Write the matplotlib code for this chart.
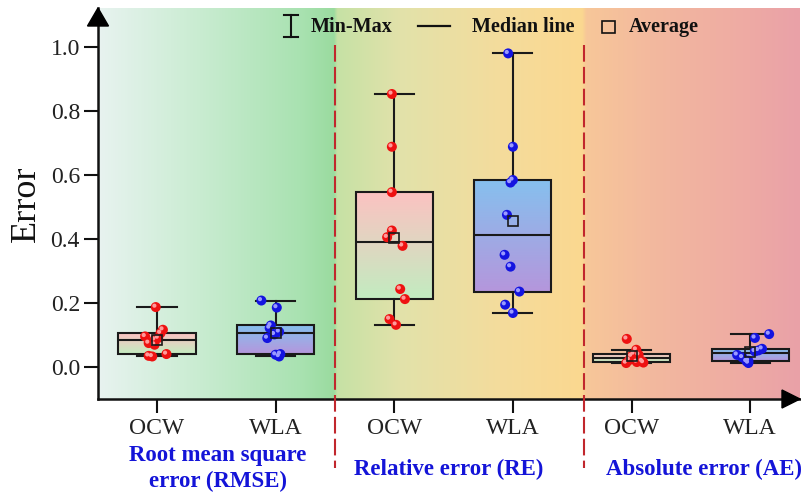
import numpy as np
import matplotlib
matplotlib.use('Agg')
import matplotlib.pyplot as plt
from matplotlib.colors import LinearSegmentedColormap
from matplotlib.lines import Line2D
from matplotlib.patches import Polygon, Rectangle
import matplotlib.transforms as mtransforms

plt.rcParams['font.family'] = ['Liberation Serif', 'DejaVu Serif']

# ---------------- data ----------------
categories = ['OCW', 'WLA', 'OCW', 'WLA', 'OCW', 'WLA']
metric_labels = ['Root mean square\nerror (RMSE)', 'Relative error (RE)', 'Absolute error (AE)']

rmse_ocw = [0.1875, 0.1166, 0.106, 0.0957, 0.0906, 0.085, 0.075, 0.0697, 0.0406, 0.035]
rmse_ocw_min = 0.033
rmse_wla = [0.208, 0.186, 0.130, 0.122, 0.110, 0.102, 0.0906, 0.0406, 0.0385, 0.033]
re_ocw = [0.854, 0.689, 0.547, 0.427, 0.406, 0.379, 0.244, 0.2125, 0.150, 0.132]
re_wla = [0.981, 0.689, 0.585, 0.577, 0.476, 0.351, 0.314, 0.236, 0.195, 0.169]
ae_ocw = [0.088, 0.054, 0.0406, 0.038, 0.034, 0.022, 0.018, 0.0156, 0.014, 0.0125]
ae_wla = [0.103, 0.091, 0.057, 0.052, 0.049, 0.038, 0.030, 0.0197, 0.0175, 0.0125]

rmse_ocw_all = rmse_ocw[:-1] + [rmse_ocw_min, rmse_ocw[-1]]

# horizontal jitter of each point (in category units)
jit_rmse_ocw = [-0.01, 0.05, 0.03, -0.10, 0.01, -0.02, -0.07, -0.02, 0.08, -0.04, -0.07]
jit_rmse_wla = [-0.12, 0.01, -0.04, -0.05, 0.03, -0.01, -0.07, 0.04, 0.00, 0.03]
jit_re_ocw = [-0.02, -0.02, -0.02, -0.02, -0.06, 0.07, 0.05, 0.09, -0.04, 0.015]
jit_re_wla = [-0.04, 0.00, 0.00, -0.02, -0.05, -0.07, -0.02, 0.055, -0.065, 0.00]
jit_ae_ocw = [-0.04, 0.04, 0.02, 0.06, 0.00, -0.02, 0.09, 0.045, 0.10, -0.045]
jit_ae_wla = [0.16, 0.04, 0.10, 0.07, 0.04, -0.11, -0.065, -0.015, -0.03, -0.015]

groups = [rmse_ocw_all, rmse_wla, re_ocw, re_wla, ae_ocw, ae_wla]
jitters = [jit_rmse_ocw, jit_rmse_wla, jit_re_ocw, jit_re_wla, jit_ae_ocw, jit_ae_wla]
dividers = [2.5, 4.6]
yticks = [0.0, 0.2, 0.4, 0.6, 0.8, 1.0]

# ---------------- styles ----------------
W, H = 801, 496
fig = plt.figure(figsize=(W / 100, H / 100), dpi=100)
ax_l, ax_r, ax_t, ax_b = 98, 800, 8, 399
ax = fig.add_axes([ax_l / W, 1 - ax_b / H, (ax_r - ax_l) / W, (ax_b - ax_t) / H])
XLIM = (0.503, 6.42)
YLIM = (-0.1, 1.123)

def px(x, y):
    return (x / W, 1 - y / H)

# background gradient
bg_stops = [(0.0, '#e8f3f0'), (0.145, '#c9ecd1'), (0.288, '#a9e2b1'), (0.336, '#9adb9f'),
            (0.341, '#c6e1a5'), (0.43, '#e2e2aa'), (0.573, '#f4dc9c'), (0.690, '#fbd890'),
            (0.696, '#f7c799'), (0.786, '#f3b99e'), (0.929, '#eeaaa4'), (1.0, '#e9a1a8')]
bg_cmap = LinearSegmentedColormap.from_list('bg', bg_stops, N=1024)
ax.imshow(np.linspace(0, 1, 1024).reshape(1, -1), extent=[XLIM[0], XLIM[1], YLIM[0], YLIM[1]],
          cmap=bg_cmap, aspect='auto', zorder=0, interpolation='bilinear')

ocw_cmap = LinearSegmentedColormap.from_list('ocw', ['#c2ecc0', '#fcc2c2'])
wla_cmap = LinearSegmentedColormap.from_list('wla', ['#b596dc', '#86c0ee'])
box_cmaps = [ocw_cmap, wla_cmap] * 3
pt_colors = ['#ee1111', '#1414e0'] * 3
hl_colors = ['#ff9a9a', '#9a9aff'] * 3

# box statistics (Tukey hinges, 1.5 IQR whiskers)
stats = []
for vals in groups:
    v = np.sort(np.asarray(vals, dtype=float))
    q1, q3 = np.percentile(v, [25, 75], method='nearest')
    iqr = q3 - q1
    lo = v[v >= q1 - 1.5 * iqr].min()
    hi = v[v <= q3 + 1.5 * iqr].max()
    stats.append(dict(med=np.median(v), q1=q1, q3=q3, whislo=lo, whishi=hi,
                      mean=v.mean(), fliers=[]))

positions = np.arange(1, len(groups) + 1)
bp = ax.bxp(stats, positions=positions, widths=0.65, capwidths=0.33, patch_artist=True,
            showmeans=True, showfliers=False,
            boxprops=dict(edgecolor='#1a1a1a', linewidth=1.5),
            whiskerprops=dict(color='#1a1a1a', linewidth=1.5),
            capprops=dict(color='#1a1a1a', linewidth=1.5),
            medianprops=dict(color='#1a1a1a', linewidth=1.5),
            meanprops=dict(marker='s', markerfacecolor='none', markeredgecolor='#1a1a1a',
                           markersize=7.5, markeredgewidth=1.2))

for i, box in enumerate(bp['boxes']):
    box.set_zorder(3)
    verts = box.get_path().vertices
    x0, x1 = verts[:, 0].min(), verts[:, 0].max()
    y0, y1 = verts[:, 1].min(), verts[:, 1].max()
    im = ax.imshow(np.linspace(0, 1, 256).reshape(-1, 1), extent=[x0, x1, y0, y1],
                   origin='lower', cmap=box_cmaps[i], aspect='auto', zorder=2.5,
                   interpolation='bilinear')
    im.set_clip_path(box)
    box.set_facecolor('none')
for k in ('whiskers', 'caps'):
    for ln in bp[k]:
        ln.set_zorder(2.8)
for ln in bp['medians']:
    ln.set_zorder(4)
for ln in bp['means']:
    ln.set_zorder(7)

# jittered points (glossy spheres)
hl_tr = mtransforms.offset_copy(ax.transData, fig=fig, x=-1.4, y=1.4, units='dots')
for i, (vals, jit) in enumerate(zip(groups, jitters)):
    xs = positions[i] + np.asarray(jit)
    ax.scatter(xs, vals, s=52, color=pt_colors[i], edgecolors='none', zorder=5)
    ax.scatter(xs, vals, s=9, color=hl_colors[i], edgecolors='none', zorder=6,
               transform=hl_tr)

# dividers
for d in dividers:
    ax.plot([d, d], [1.007, -0.315], color='#c1272d', linewidth=1.5, dashes=(8, 2.5),
            clip_on=False, zorder=4)

ax.set_xlim(*XLIM)
ax.set_ylim(*YLIM)
ax.set_xticks(positions)
ax.set_xticklabels(categories, fontsize=17)
ax.set_yticks(yticks)
ax.set_yticklabels([f'{t:.1f}' for t in yticks], fontsize=17)
ax.tick_params(axis='both', direction='out', length=10, width=1.5, color='#111111',
               labelcolor='#222222')
ax.tick_params(axis='y', pad=3)
ax.tick_params(axis='x', pad=4)
for s in ('top', 'right'):
    ax.spines[s].set_visible(False)
for s in ('left', 'bottom'):
    ax.spines[s].set_linewidth(1.8)
    ax.spines[s].set_color('#111111')

fig.text(*px(26, 204), 'Error', fontsize=26, color='#111111', rotation=90,
         ha='center', va='center')

# axis arrow heads
aw, ah = ax_r - ax_l, ax_b - ax_t
ax.add_patch(Polygon([(-10.5 / aw, 1 - 18 / ah), (10.5 / aw, 1 - 18 / ah), (0, 1.0)],
                     closed=True, transform=ax.transAxes, color='black', clip_on=False, zorder=8))
ax.add_patch(Polygon([(1 - 18 / aw, -9 / ah), (1 - 18 / aw, 9 / ah), (1.0, 0)],
                     closed=True, transform=ax.transAxes, color='black', clip_on=False, zorder=8))

# legend (top)
lc = '#111111'
fig.add_artist(Line2D([px(291, 0)[0]] * 2, [px(0, 15)[1], px(0, 37)[1]], color=lc, lw=1.5))
fig.add_artist(Line2D([px(284, 0)[0], px(298, 0)[0]], [px(0, 15)[1]] * 2, color=lc, lw=1.5))
fig.add_artist(Line2D([px(284, 0)[0], px(298, 0)[0]], [px(0, 37)[1]] * 2, color=lc, lw=1.5))
fig.text(*px(311, 27), 'Min-Max', fontsize=14.5, fontweight='bold', va='center', ha='left', color=lc)
fig.add_artist(Line2D([px(418, 0)[0], px(450, 0)[0]], [px(0, 26)[1]] * 2, color=lc, lw=1.6))
fig.text(*px(472, 27), 'Median line', fontsize=14.5, fontweight='bold', va='center', ha='left', color=lc)
fig.add_artist(Rectangle(px(602, 33), 13 / W, 12 / H, facecolor='none', edgecolor=lc, lw=1.2))
fig.text(*px(629, 27), 'Average', fontsize=14.5, fontweight='bold', va='center', ha='left', color=lc)

# metric labels (bottom)
blue = '#1414d8'
fig.text(*px(218, 469), metric_labels[0], fontsize=16.5, fontweight='bold', color=blue,
         ha='center', va='center', linespacing=1.3)
fig.text(*px(449, 469), metric_labels[1], fontsize=16.5, fontweight='bold', color=blue,
         ha='center', va='center')
fig.text(*px(704, 469), metric_labels[2], fontsize=16.5, fontweight='bold', color=blue,
         ha='center', va='center')

fig.savefig('out.png', dpi=100, facecolor='white')
